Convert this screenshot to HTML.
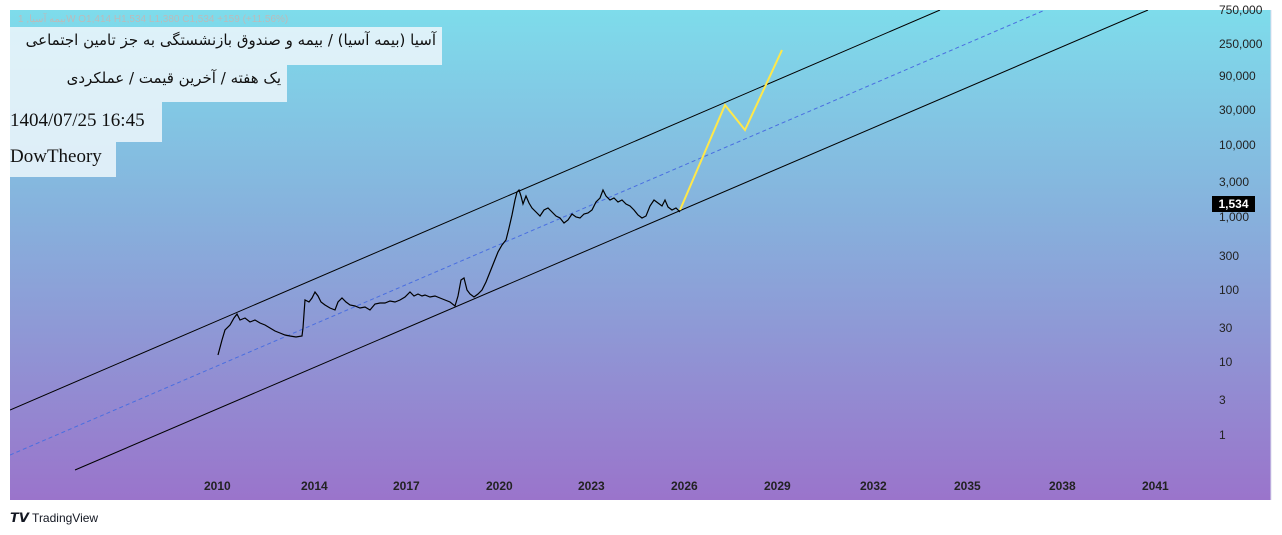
<!DOCTYPE html>
<html><head><meta charset="utf-8"><style>
body{margin:0;width:1282px;height:535px;background:#fff;overflow:hidden;font-family:"Liberation Sans",sans-serif}
#c{position:absolute;left:10px;top:10px;width:1261px;height:490px;background:linear-gradient(#7edceb,#86b3dd 40%,#9a74cb)}
.lb{position:absolute;left:10px;background:rgba(235,245,250,0.88);font-family:"Liberation Serif","Noto Sans CJK SC",serif;font-size:19px;color:#111;white-space:nowrap;overflow:hidden}
.fa{font-family:"DejaVu Sans",sans-serif;font-size:15px;direction:rtl;text-align:right;padding-right:6px;box-sizing:border-box}
.ax{position:absolute;font-size:12px;color:#222}
</style></head><body>
<div id="c"></div>
<svg width="1282" height="535" style="position:absolute;left:0;top:0">
<defs><clipPath id="cp"><rect x="10" y="10" width="1261" height="490"/></clipPath></defs>
<g clip-path="url(#cp)">
<line x1="10" y1="410" x2="940" y2="10" stroke="#000" stroke-width="1"/>
<line x1="10" y1="455" x2="1045" y2="10" stroke="#4a6ee0" stroke-width="1" stroke-dasharray="4,3"/>
<line x1="75" y1="470" x2="1148" y2="10" stroke="#000" stroke-width="1"/>
<polyline fill="none" stroke="#000" stroke-width="1.2" points="218,355 222,340 225,330 230,325 234,318 237,314 240,320 245,318 250,322 255,320 260,323 265,325 270,328 275,331 280,333 285,335 290,336 296,337 302,336 303,328 305,300 309,302 312,298 315,292 318,296 321,302 325,305 330,308 335,310 338,302 342,298 346,302 350,305 355,306 360,308 365,307 370,310 375,304 380,303 385,303 390,301 395,302 400,300 405,297 410,292 414,296 418,294 422,296 425,295 430,297 435,296 440,298 445,300 450,302 455,306 458,296 461,280 464,278 467,290 470,294 474,297 478,294 482,290 486,282 490,272 494,262 498,252 502,245 506,240 509,228 512,215 515,200 517,192 519,190 521,196 523,204 526,196 529,203 532,208 536,212 540,216 544,210 548,208 552,212 556,216 560,218 564,223 568,220 572,214 576,217 580,218 584,214 588,213 592,210 596,202 600,198 603,190 606,196 610,200 614,198 618,202 622,200 626,204 630,206 634,210 638,215 642,218 646,216 650,206 654,200 658,203 662,206 665,200 668,207 672,210 676,208 680,212"/>
<polyline fill="none" stroke="#ffe84a" stroke-width="2" points="680,210 725,105 745,130 782,50"/>
</g>
<line x1="1271" y1="10" x2="1271" y2="500" stroke="#dde" />
</svg>
<div class="lb fa" style="top:27px;width:432px;height:38px;line-height:26px">آسیا (بیمه آسیا) / بیمه و صندوق بازنشستگی به جز تامین اجتماعی</div>
<div style="position:absolute;left:18px;top:14px;font-size:10px;color:#bbb">بیمه آسیا, 1W  O1,414  H1,534  L1,380  C1,534  +159 (+11.56%)</div>
<div class="lb fa" style="top:65px;width:277px;height:37px;line-height:27px">یک هفته / آخرین قیمت / عملکردی</div>
<div class="lb" style="top:102px;width:152px;height:40px;line-height:38px">1404/07/25 16:45</div>
<div class="lb" style="top:142px;width:106px;height:35px;line-height:30px">DowTheory</div>
<div class="ax" style="left:1219px;top:3px">750,000</div>
<div class="ax" style="left:1219px;top:37px">250,000</div>
<div class="ax" style="left:1219px;top:69px">90,000</div>
<div class="ax" style="left:1219px;top:103px">30,000</div>
<div class="ax" style="left:1219px;top:138px">10,000</div>
<div class="ax" style="left:1219px;top:175px">3,000</div>
<div class="ax" style="left:1219px;top:210px">1,000</div>
<div class="ax" style="left:1219px;top:249px">300</div>
<div class="ax" style="left:1219px;top:283px">100</div>
<div class="ax" style="left:1219px;top:321px">30</div>
<div class="ax" style="left:1219px;top:355px">10</div>
<div class="ax" style="left:1219px;top:393px">3</div>
<div class="ax" style="left:1219px;top:428px">1</div>
<div style="position:absolute;left:1212px;top:196px;width:43px;height:16px;background:#000;color:#fff;font-size:12px;font-weight:bold;text-align:center;line-height:16px">1,534</div>
<div class="ax" style="left:204px;top:479px;font-weight:bold">2010</div>
<div class="ax" style="left:301px;top:479px;font-weight:bold">2014</div>
<div class="ax" style="left:393px;top:479px;font-weight:bold">2017</div>
<div class="ax" style="left:486px;top:479px;font-weight:bold">2020</div>
<div class="ax" style="left:578px;top:479px;font-weight:bold">2023</div>
<div class="ax" style="left:671px;top:479px;font-weight:bold">2026</div>
<div class="ax" style="left:764px;top:479px;font-weight:bold">2029</div>
<div class="ax" style="left:860px;top:479px;font-weight:bold">2032</div>
<div class="ax" style="left:954px;top:479px;font-weight:bold">2035</div>
<div class="ax" style="left:1049px;top:479px;font-weight:bold">2038</div>
<div class="ax" style="left:1142px;top:479px;font-weight:bold">2041</div>
<div style="position:absolute;left:10px;top:510px;font-size:12px;color:#131722"><b style="font-size:13px">𝙏𝙑</b> TradingView</div>
</body></html>
